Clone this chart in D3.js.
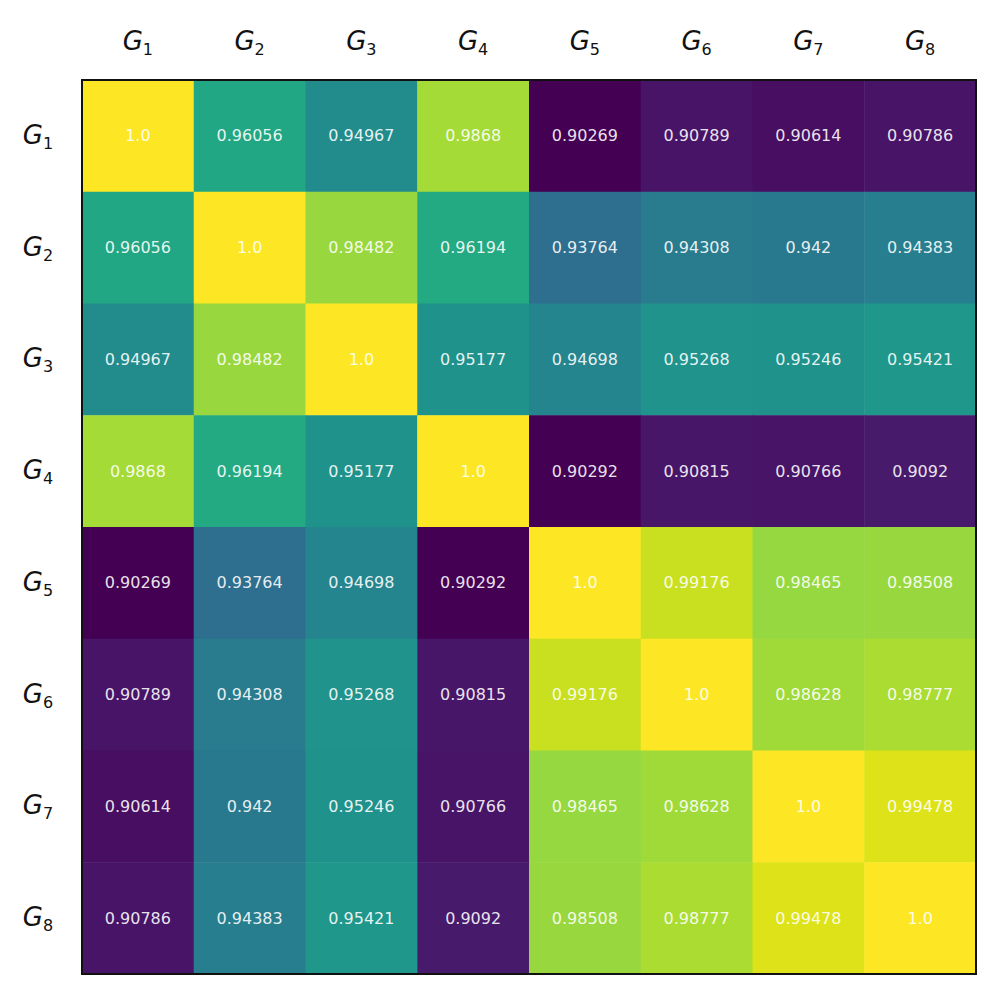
<!DOCTYPE html>
<html lang="en">
<head>
    <meta charset="UTF-8">
    <title>Similarity matrix</title>
    <script src="https://d3js.org/d3.v7.min.js"></script>
    <style>
        body { margin: 0; background: #fff; }
        .lab { font-family: "DejaVu Sans", sans-serif; font-style: italic; fill: #111; }
        .cell-text { font-family: "DejaVu Sans", sans-serif; fill: #fff; fill-opacity: 0.9; font-size: 16px; }
    </style>
</head>
<body>
    <svg width="995" height="993"></svg>
    <script>
        // groups and pairwise similarity values
        const groups = ["1", "2", "3", "4", "5", "6", "7", "8"];
        const row1 = ["1.0", "0.96056", "0.94967", "0.9868", "0.90269", "0.90789", "0.90614", "0.90786"];
        const row2 = ["0.96056", "1.0", "0.98482", "0.96194", "0.93764", "0.94308", "0.942", "0.94383"];
        const row3 = ["0.94967", "0.98482", "1.0", "0.95177", "0.94698", "0.95268", "0.95246", "0.95421"];
        const row4 = ["0.9868", "0.96194", "0.95177", "1.0", "0.90292", "0.90815", "0.90766", "0.9092"];
        const row5 = ["0.90269", "0.93764", "0.94698", "0.90292", "1.0", "0.99176", "0.98465", "0.98508"];
        const row6 = ["0.90789", "0.94308", "0.95268", "0.90815", "0.99176", "1.0", "0.98628", "0.98777"];
        const row7 = ["0.90614", "0.942", "0.95246", "0.90766", "0.98465", "0.98628", "1.0", "0.99478"];
        const row8 = ["0.90786", "0.94383", "0.95421", "0.9092", "0.98508", "0.98777", "0.99478", "1.0"];
        const rows = [row1, row2, row3, row4, row5, row6, row7, row8];

        const svg = d3.select("svg");
        const plotLeft = 82, plotTop = 80, size = 894;

        const x = d3.scaleBand().domain(groups).range([plotLeft, plotLeft + size]);
        const y = d3.scaleBand().domain(groups).range([plotTop, plotTop + size]);

        const cells = [];
        rows.forEach((r, i) => r.forEach((v, j) => cells.push({ row: groups[i], col: groups[j], label: v, value: +v })));

        const color = d3.scaleSequential(d3.interpolateViridis)
            .domain(d3.extent(cells, d => d.value));

        svg.selectAll("rect.cell")
            .data(cells)
            .enter()
            .append("rect")
            .attr("class", "cell")
            .attr("x", d => x(d.col))
            .attr("y", d => y(d.row))
            .attr("width", x.bandwidth() + 0.5)
            .attr("height", y.bandwidth() + 0.5)
            .attr("fill", d => color(d.value));

        svg.selectAll("text.cell-text")
            .data(cells)
            .enter()
            .append("text")
            .attr("class", "cell-text")
            .attr("x", d => x(d.col) + x.bandwidth() / 2)
            .attr("y", d => y(d.row) + y.bandwidth() / 2)
            .attr("dy", "0.35em")
            .attr("text-anchor", "middle")
            .text(d => d.label);

        // frame
        svg.append("rect")
            .attr("x", plotLeft).attr("y", plotTop)
            .attr("width", size).attr("height", size)
            .attr("fill", "none")
            .attr("stroke", "#111")
            .attr("stroke-width", 2);

        // column labels on top
        const colLab = svg.selectAll("text.col")
            .data(groups)
            .enter()
            .append("text")
            .attr("class", "lab col")
            .attr("x", d => x(d) + x.bandwidth() / 2)
            .attr("y", 50)
            .attr("text-anchor", "middle")
            .attr("font-size", 26);
        colLab.append("tspan").text("G");
        colLab.append("tspan").attr("font-size", 16).attr("dy", 5).attr("font-style", "normal").text(d => d);

        // row labels on the left
        const rowLab = svg.selectAll("text.row")
            .data(groups)
            .enter()
            .append("text")
            .attr("class", "lab row")
            .attr("x", 38)
            .attr("y", d => y(d) + y.bandwidth() / 2 + 8)
            .attr("text-anchor", "middle")
            .attr("font-size", 26);
        rowLab.append("tspan").text("G");
        rowLab.append("tspan").attr("font-size", 16).attr("dy", 5).attr("font-style", "normal").text(d => d);
    </script>
</body>
</html>
